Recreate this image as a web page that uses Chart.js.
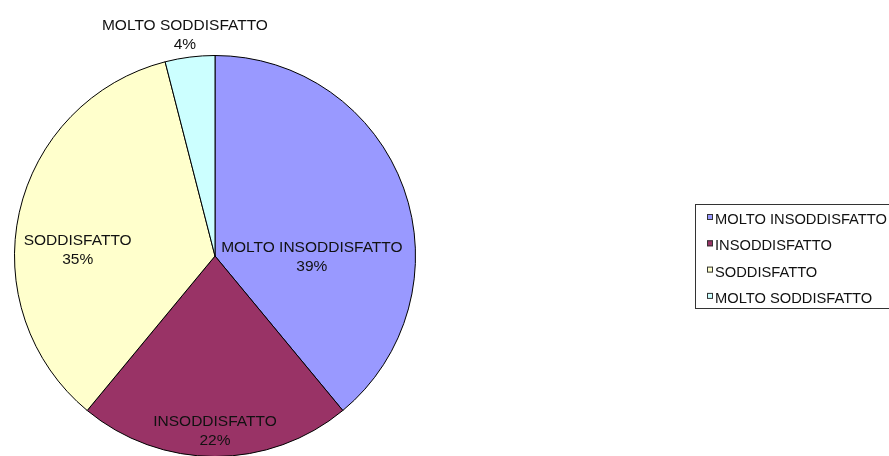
<!DOCTYPE html>
<html>
<head>
<meta charset="utf-8">
<script src="https://cdn.jsdelivr.net/npm/chart.js@4/dist/chart.umd.min.js"></script>
<style>
	html, body { margin: 0; padding: 0; background: #fff; overflow: hidden; }
	#wrap { position: relative; width: 889px; height: 470px; }
</style>
</head>
<body>
<div id="wrap"><canvas id="myChart" width="889" height="470"></canvas></div>
<script>
	var labels = ["MOLTO INSODDISFATTO", "INSODDISFATTO", "SODDISFATTO", "MOLTO SODDISFATTO"];
	var values = [39, 22, 35, 4];
	var colors = ["#9999ff", "#993366", "#ffffcc", "#ccffff"];
	// label anchor relative to pie center, in units of radius
	var labelPos = [[0.483, 0.01], [0, 0.875], [-0.685, -0.025], [-0.15, -1.10]];

	var sliceLabels = {
		id: 'sliceLabels',
		afterDraw: function(chart) {
			var ctx = chart.ctx;
			var arc = chart.getDatasetMeta(0).data[0];
			var cx = arc.x, cy = arc.y, r = arc.outerRadius;
			ctx.save();
			ctx.font = '15.5px "Liberation Sans", Arial, sans-serif';
			ctx.textAlign = 'center';
			ctx.textBaseline = 'middle';
			ctx.fillStyle = '#111';
			labels.forEach(function(name, i) {
				var x = cx + labelPos[i][0] * r;
				var y = cy + labelPos[i][1] * r;
				ctx.fillText(name, x, y - 10);
				ctx.fillText(values[i] + '%', x, y + 9);
			});

			// legend box
			var lx = 695, ly = 204, lw = 205, lh = 104;
			ctx.strokeStyle = '#333';
			ctx.lineWidth = 1;
			ctx.strokeRect(lx + 0.5, ly + 0.5, lw, lh);
			ctx.font = '14.7px "Liberation Sans", Arial, sans-serif';
			ctx.textAlign = 'left';
			labels.forEach(function(name, i) {
				var y = ly + 15 + i * 26.3;
				ctx.fillStyle = colors[i];
				ctx.fillRect(lx + 12, y - 5, 6, 6);
				ctx.strokeStyle = '#333';
				ctx.strokeRect(lx + 12.5, y - 4.5, 5, 5);
				ctx.fillStyle = '#111';
				ctx.fillText(name, lx + 20, y + 1);
			});
			ctx.restore();
		}
	};

	var ctx = document.getElementById('myChart').getContext('2d');
	var myChart = new Chart(ctx, {
		type: 'pie',
		data: {
			labels: labels,
			datasets: [{
				data: values,
				backgroundColor: colors,
				borderColor: '#000',
				borderWidth: 1
			}]
		},
		options: {
			responsive: false,
			animation: false,
			layout: { padding: { left: 14, right: 473, top: 55, bottom: 13 } },
			plugins: {
				legend: { display: false },
				tooltip: { enabled: false }
			}
		},
		plugins: [sliceLabels]
	});
</script>
</body>
</html>
